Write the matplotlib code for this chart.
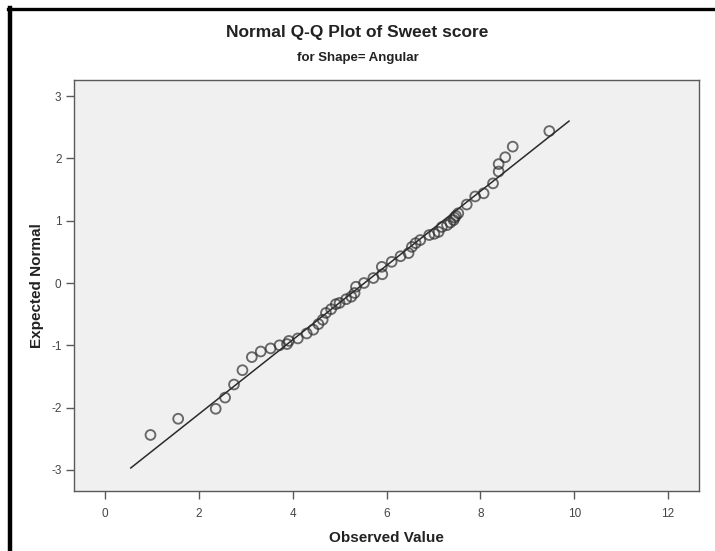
import matplotlib
matplotlib.use("Agg")
import matplotlib.pyplot as plt
from matplotlib.lines import Line2D

observed = [0.97, 1.56, 2.36, 2.56, 2.75, 2.93, 3.13, 3.32, 3.53, 3.72,
            3.88, 3.92, 4.11, 4.30, 4.44, 4.55, 4.64, 4.71, 4.82, 4.92,
            5.00, 5.14, 5.25, 5.32, 5.35, 5.52, 5.72, 5.91, 5.90, 6.11,
            6.30, 6.47, 6.54, 6.62, 6.72, 6.91, 7.02, 7.11, 7.18, 7.29,
            7.36, 7.43, 7.45, 7.48, 7.53, 7.71, 7.89, 8.07, 8.27, 8.39,
            8.39, 8.53, 8.69, 9.47]
expected = [-2.44, -2.18, -2.02, -1.84, -1.63, -1.40, -1.19, -1.10, -1.05, -1.00,
            -0.98, -0.93, -0.89, -0.81, -0.75, -0.66, -0.59, -0.48, -0.42, -0.34,
            -0.32, -0.26, -0.22, -0.16, -0.06, 0.00, 0.08, 0.14, 0.26, 0.34,
            0.43, 0.48, 0.58, 0.64, 0.69, 0.77, 0.79, 0.82, 0.90, 0.93,
            0.97, 1.01, 1.05, 1.08, 1.12, 1.26, 1.39, 1.44, 1.60, 1.79,
            1.91, 2.02, 2.19, 2.44]

# Reference normal line end points
line_x = [0.55, 9.89]
line_y = [-2.97, 2.60]

xticks = [0, 2, 4, 6, 8, 10, 12]
yticks = [-3, -2, -1, 0, 1, 2, 3]

title = "Normal Q-Q Plot of Sweet score"
subtitle = "for Shape= Angular"
xlabel = "Observed Value"
ylabel = "Expected Normal"

FONT = ["Liberation Sans Narrow", "Liberation Sans", "DejaVu Sans"]
plt.rcParams["font.family"] = FONT

W, H = 715, 551
fig = plt.figure(figsize=(W / 100, H / 100), dpi=100)
fig.patch.set_facecolor("white")

ax = fig.add_axes([74 / W, 1 - 491 / H, (699 - 74) / W, (491 - 80) / H])
ax.set_facecolor("#f0f0f0")

ax.plot(line_x, line_y, color="#2a2a2a", lw=1.1, zorder=2)
ax.scatter(observed, expected, s=50, facecolors="none", edgecolors="#2e2e2e",
           linewidths=1.35, alpha=0.7, zorder=3)

ax.set_xlim(-0.66, 12.66)
ax.set_ylim(-3.34, 3.26)
ax.set_xticks(xticks)
ax.set_yticks(yticks)
ax.set_xticklabels([str(t) for t in xticks])
ax.set_yticklabels([str(t) for t in yticks])

for side in ["top", "right", "left", "bottom"]:
    ax.spines[side].set_color("#5a5a5a")
    ax.spines[side].set_linewidth(1.0)
ax.tick_params(axis="both", direction="out", length=6, width=1.0,
               color="#5a5a5a", labelcolor="#444444", labelsize=8.5)
ax.tick_params(axis="x", pad=6)
ax.tick_params(axis="y", pad=3)

ax.set_xlabel(xlabel, fontsize=11, fontweight="bold", color="#222222", labelpad=8)
ax.set_ylabel(ylabel, fontsize=11, fontweight="bold", color="#222222", labelpad=5)

fig.text(0.5, 1 - 33 / H, title, ha="center", va="center", fontsize=12.5,
         fontweight="bold", color="#222222")
fig.text(0.5, 1 - 58 / H, subtitle, ha="center", va="center", fontsize=9.5,
         fontweight="bold", color="#222222")

# black frame on the left and top edges
fig.add_artist(Line2D([10 / W, 10 / W], [0, 1 - 8 / H], transform=fig.transFigure,
                      color="black", lw=3.2))
fig.add_artist(Line2D([8 / W, 1], [1 - 9 / H, 1 - 9 / H], transform=fig.transFigure,
                      color="black", lw=2.4))

fig.savefig("out.png", dpi=100, facecolor="white")
